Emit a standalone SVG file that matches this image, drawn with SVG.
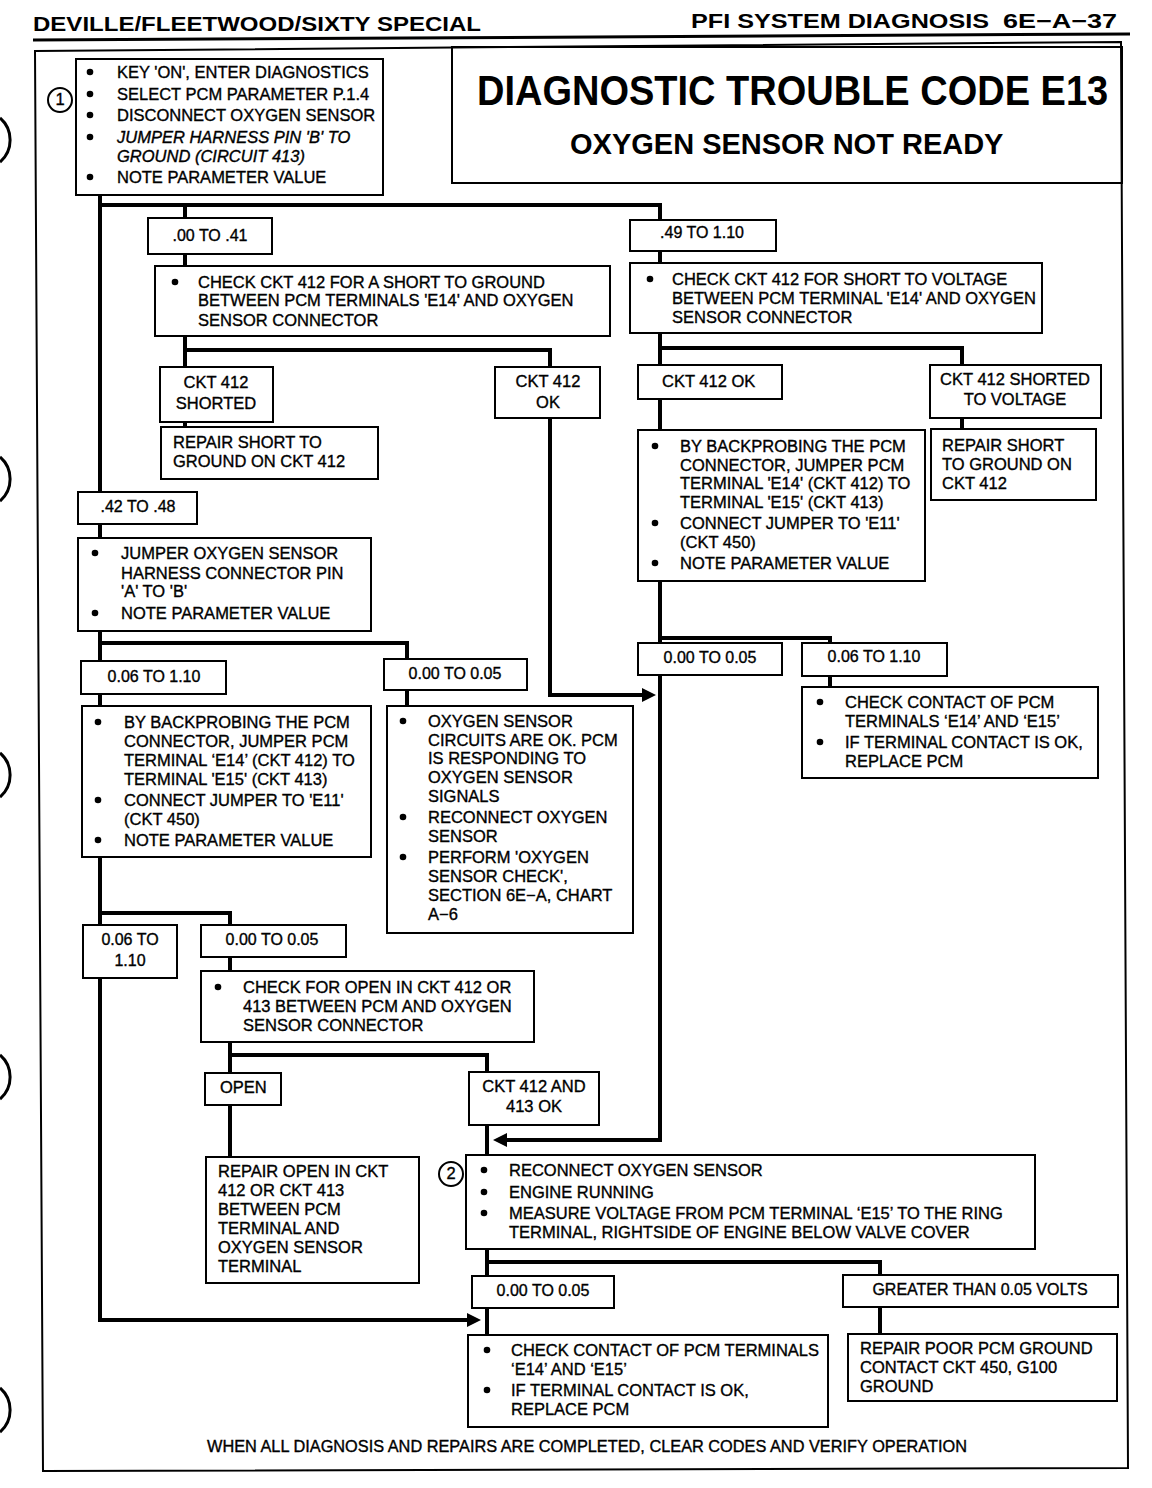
<svg xmlns="http://www.w3.org/2000/svg" width="1152" height="1488" viewBox="0 0 1152 1488">
<style>
.bx{fill:#fff;stroke:#000;stroke-width:2}
.cn{fill:none;stroke:#000;stroke-width:4}
.t{font-family:"Liberation Sans",Arial,sans-serif;font-size:16.5px;fill:#000;stroke:#000;stroke-width:0.35}
.l{font-family:"Liberation Sans",Arial,sans-serif;font-size:16px;fill:#000;stroke:#000;stroke-width:0.35}
.m{text-anchor:middle}
.i{font-style:italic}
.h{font-family:"Liberation Sans",Arial,sans-serif;font-weight:bold;fill:#000}
.hole{fill:none;stroke:#000;stroke-width:3}
</style>
<defs>
<marker id="ah" markerUnits="userSpaceOnUse" markerWidth="16" markerHeight="16" refX="4" refY="7" orient="auto">
<path d="M0,0 L14,7 L0,14 Z" fill="#000"/>
</marker>
<circle id="b" r="3.3" fill="#000"/>
</defs>
<rect width="1152" height="1488" fill="#fff"/>

<g id="punch-holes">
<path class="hole" d="M0,118 A29,29 0 0 1 0,162"/>
<path class="hole" d="M0,457 A29,29 0 0 1 0,501"/>
<path class="hole" d="M0,753 A29,29 0 0 1 0,797"/>
<path class="hole" d="M0,1055 A29,29 0 0 1 0,1099"/>
<path class="hole" d="M0,1388 A29,29 0 0 1 0,1432"/>
</g>

<g id="header">
<text class="h" x="33" y="31" font-size="21" textLength="448" lengthAdjust="spacingAndGlyphs">DEVILLE/FLEETWOOD/SIXTY SPECIAL</text>
<text class="h" x="691" y="28" font-size="21" textLength="298" lengthAdjust="spacingAndGlyphs">PFI SYSTEM DIAGNOSIS</text>
<text class="h" x="1003" y="28" font-size="21" textLength="114" lengthAdjust="spacingAndGlyphs">6E−A−37</text>
<path d="M33,40 L1130,34" stroke="#000" stroke-width="3"/>
<path d="M35,51 L1121,42 L1128,1468 L43,1471 Z" fill="none" stroke="#000" stroke-width="2"/>
</g>

<g id="connectors">
<path class="cn" d="M100,195 V1320 H471" marker-end="url(#ah)"/>
<path class="cn" d="M100,205 H660 V220"/>
<path class="cn" d="M185,205 V218 M185,254 V266 M185,336 V367 M185,350 H550 V367 M185,422 V427"/>
<path class="cn" d="M550,418 V695 H646" marker-end="url(#ah)"/>
<path class="cn" d="M660,251 V1140 H503" marker-end="url(#ah)"/>
<path class="cn" d="M660,348 H962 V365 M962,418 V429"/>
<path class="cn" d="M660,638 H830 V643 M830,676 V687"/>
<path class="cn" d="M100,643 H407 V659 M407,690 V706"/>
<path class="cn" d="M100,913 H230 V925 M230,957 V971 M230,1042 V1073 M230,1055 H487 V1072 M230,1105 V1157"/>
<path class="cn" d="M487,1125 V1155 M487,1249 V1276 M487,1262 H880 V1275 M487,1308 V1335 M880,1307 V1334"/>
</g>

<g id="n-step1">
<rect class="bx" x="76" y="59" width="307" height="136"/>
<circle cx="60" cy="100" r="12" fill="#fff" stroke="#000" stroke-width="2"/>
<text class="t m" x="60" y="105" font-size="14">1</text>
<use href="#b" x="90" y="72"/><use href="#b" x="90" y="94"/><use href="#b" x="90" y="115"/><use href="#b" x="90" y="137"/><use href="#b" x="90" y="177"/>
<text class="t" x="117" y="78">KEY 'ON', ENTER DIAGNOSTICS</text>
<text class="t" x="117" y="100">SELECT PCM PARAMETER P.1.4</text>
<text class="t" x="117" y="121">DISCONNECT OXYGEN SENSOR</text>
<text class="t i" x="117" y="143">JUMPER HARNESS PIN 'B' TO</text>
<text class="t i" x="117" y="162">GROUND (CIRCUIT 413)</text>
<text class="t" x="117" y="183">NOTE PARAMETER VALUE</text>
</g>

<g id="n-title">
<rect x="452" y="47" width="670" height="136" fill="none" stroke="#000" stroke-width="2"/>
<text class="h" font-size="38" transform="translate(477,105) scale(1,1.1)">DIAGNOSTIC TROUBLE CODE E13</text>
<text class="h" x="570" y="154" font-size="29">OXYGEN SENSOR NOT READY</text>
</g>

<g id="n-r00-41">
<rect class="bx" x="148" y="218" width="124" height="36"/>
<text class="l m" x="210" y="241">.00 TO .41</text>
</g>

<g id="n-check-short-ground">
<rect class="bx" x="155" y="266" width="455" height="70"/>
<use href="#b" x="175" y="282"/>
<text class="t" x="198" y="288">CHECK CKT 412 FOR A SHORT TO GROUND</text>
<text class="t" x="198" y="306">BETWEEN PCM TERMINALS 'E14' AND OXYGEN</text>
<text class="t" x="198" y="326">SENSOR CONNECTOR</text>
</g>

<g id="n-ckt412-shorted">
<rect class="bx" x="160" y="367" width="113" height="55"/>
<text class="t m" x="216" y="388">CKT 412</text>
<text class="t m" x="216" y="409">SHORTED</text>
</g>

<g id="n-repair-short-ground">
<rect class="bx" x="161" y="427" width="217" height="52"/>
<text class="t" x="173" y="448">REPAIR SHORT TO</text>
<text class="t" x="173" y="467">GROUND ON CKT 412</text>
</g>

<g id="n-ckt412-ok-left">
<rect class="bx" x="495" y="367" width="105" height="51"/>
<text class="t m" x="548" y="387">CKT 412</text>
<text class="t m" x="548" y="408">OK</text>
</g>

<g id="n-r49-110">
<rect class="bx" x="630" y="220" width="146" height="31"/>
<text class="l m" x="702" y="238">.49 TO 1.10</text>
</g>

<g id="n-check-short-voltage">
<rect class="bx" x="630" y="263" width="412" height="70"/>
<use href="#b" x="650" y="279"/>
<text class="t" x="672" y="285">CHECK CKT 412 FOR SHORT TO VOLTAGE</text>
<text class="t" x="672" y="304">BETWEEN PCM TERMINAL 'E14' AND OXYGEN</text>
<text class="t" x="672" y="323">SENSOR CONNECTOR</text>
</g>

<g id="n-ckt412-ok-right">
<rect class="bx" x="638" y="365" width="144" height="34"/>
<text class="t" x="662" y="387">CKT 412 OK</text>
</g>

<g id="n-ckt412-shorted-voltage">
<rect class="bx" x="930" y="365" width="171" height="53"/>
<text class="t m" x="1015" y="385">CKT 412 SHORTED</text>
<text class="t m" x="1015" y="405">TO VOLTAGE</text>
</g>

<g id="n-repair-short-right">
<rect class="bx" x="931" y="429" width="165" height="71"/>
<text class="t" x="942" y="451">REPAIR SHORT</text>
<text class="t" x="942" y="470">TO GROUND ON</text>
<text class="t" x="942" y="489">CKT 412</text>
</g>

<g id="n-backprobe-right">
<rect class="bx" x="638" y="430" width="287" height="151"/>
<use href="#b" x="655" y="446"/><use href="#b" x="655" y="523"/><use href="#b" x="655" y="563"/>
<text class="t" x="680" y="452">BY BACKPROBING THE PCM</text>
<text class="t" x="680" y="471">CONNECTOR, JUMPER  PCM</text>
<text class="t" x="680" y="489">TERMINAL 'E14' (CKT 412) TO</text>
<text class="t" x="680" y="508">TERMINAL 'E15' (CKT 413)</text>
<text class="t" x="680" y="529">CONNECT JUMPER TO 'E11'</text>
<text class="t" x="680" y="548">(CKT 450)</text>
<text class="t" x="680" y="569">NOTE PARAMETER VALUE</text>
</g>

<g id="n-r42-48">
<rect class="bx" x="78" y="492" width="119" height="32"/>
<text class="l m" x="138" y="512">.42 TO .48</text>
</g>

<g id="n-jumper">
<rect class="bx" x="78" y="538" width="293" height="93"/>
<use href="#b" x="95" y="553"/><use href="#b" x="95" y="613"/>
<text class="t" x="121" y="559">JUMPER OXYGEN  SENSOR</text>
<text class="t" x="121" y="579">HARNESS CONNECTOR PIN</text>
<text class="t" x="121" y="597">'A' TO 'B'</text>
<text class="t" x="121" y="619">NOTE PARAMETER VALUE</text>
</g>

<g id="n-l006-110">
<rect class="bx" x="81" y="661" width="145" height="33"/>
<text class="l m" x="154" y="682">0.06 TO 1.10</text>
</g>

<g id="n-l000-005">
<rect class="bx" x="384" y="659" width="143" height="31"/>
<text class="l m" x="455" y="679">0.00 TO 0.05</text>
</g>

<g id="n-backprobe-left">
<rect class="bx" x="82" y="706" width="289" height="151"/>
<use href="#b" x="98" y="722"/><use href="#b" x="98" y="800"/><use href="#b" x="98" y="840"/>
<text class="t" x="124" y="728">BY BACKPROBING THE PCM</text>
<text class="t" x="124" y="747">CONNECTOR, JUMPER  PCM</text>
<text class="t" x="124" y="766">TERMINAL ‘E14’ (CKT 412) TO</text>
<text class="t" x="124" y="785">TERMINAL 'E15' (CKT 413)</text>
<text class="t" x="124" y="806">CONNECT JUMPER TO 'E11'</text>
<text class="t" x="124" y="825">(CKT 450)</text>
<text class="t" x="124" y="846">NOTE PARAMETER VALUE</text>
</g>

<g id="n-circuits-ok">
<rect class="bx" x="387" y="706" width="246" height="227"/>
<use href="#b" x="403" y="721"/><use href="#b" x="403" y="817"/><use href="#b" x="403" y="857"/>
<text class="t" x="428" y="727">OXYGEN SENSOR</text>
<text class="t" x="428" y="746">CIRCUITS ARE OK. PCM</text>
<text class="t" x="428" y="764">IS RESPONDING TO</text>
<text class="t" x="428" y="783">OXYGEN SENSOR</text>
<text class="t" x="428" y="802">SIGNALS</text>
<text class="t" x="428" y="823">RECONNECT OXYGEN</text>
<text class="t" x="428" y="842">SENSOR</text>
<text class="t" x="428" y="863">PERFORM 'OXYGEN</text>
<text class="t" x="428" y="882">SENSOR CHECK',</text>
<text class="t" x="428" y="901">SECTION 6E−A, CHART</text>
<text class="t" x="428" y="920">A−6</text>
</g>

<g id="n-r000-005">
<rect class="bx" x="638" y="643" width="144" height="32"/>
<text class="l m" x="710" y="663">0.00 TO 0.05</text>
</g>

<g id="n-r006-110">
<rect class="bx" x="802" y="643" width="145" height="33"/>
<text class="l m" x="874" y="662">0.06 TO 1.10</text>
</g>

<g id="n-check-contact-right">
<rect class="bx" x="802" y="687" width="296" height="91"/>
<use href="#b" x="820" y="702"/><use href="#b" x="820" y="742"/>
<text class="t" x="845" y="708">CHECK CONTACT OF PCM</text>
<text class="t" x="845" y="727">TERMINALS ‘E14’ AND ‘E15’</text>
<text class="t" x="845" y="748">IF TERMINAL CONTACT IS OK,</text>
<text class="t" x="845" y="767">REPLACE PCM</text>
</g>

<g id="n-b006-110">
<rect class="bx" x="83" y="925" width="94" height="53"/>
<text class="l m" x="130" y="945">0.06 TO</text>
<text class="l m" x="130" y="966">1.10</text>
</g>

<g id="n-b000-005">
<rect class="bx" x="201" y="925" width="145" height="32"/>
<text class="l m" x="272" y="945">0.00 TO 0.05</text>
</g>

<g id="n-check-open">
<rect class="bx" x="201" y="971" width="333" height="71"/>
<use href="#b" x="218" y="987"/>
<text class="t" x="243" y="993">CHECK FOR OPEN IN CKT 412 OR</text>
<text class="t" x="243" y="1012">413 BETWEEN PCM AND OXYGEN</text>
<text class="t" x="243" y="1031">SENSOR CONNECTOR</text>
</g>

<g id="n-open">
<rect class="bx" x="205" y="1073" width="76" height="32"/>
<text class="t" x="220" y="1093">OPEN</text>
</g>

<g id="n-repair-open">
<rect class="bx" x="206" y="1157" width="213" height="126"/>
<text class="t" x="218" y="1177">REPAIR OPEN IN CKT</text>
<text class="t" x="218" y="1196">412 OR CKT 413</text>
<text class="t" x="218" y="1215">BETWEEN PCM</text>
<text class="t" x="218" y="1234">TERMINAL AND</text>
<text class="t" x="218" y="1253">OXYGEN SENSOR</text>
<text class="t" x="218" y="1272">TERMINAL</text>
</g>

<g id="n-ckt-ok">
<rect class="bx" x="469" y="1072" width="130" height="53"/>
<text class="t m" x="534" y="1092">CKT 412 AND</text>
<text class="t m" x="534" y="1112">413 OK</text>
</g>

<g id="n-step2">
<rect class="bx" x="466" y="1155" width="569" height="94"/>
<circle cx="451" cy="1174" r="12" fill="#fff" stroke="#000" stroke-width="2"/>
<text class="t m" x="451" y="1179" font-size="14">2</text>
<use href="#b" x="484" y="1170"/><use href="#b" x="484" y="1192"/><use href="#b" x="484" y="1213"/>
<text class="t" x="509" y="1176">RECONNECT OXYGEN SENSOR</text>
<text class="t" x="509" y="1198">ENGINE RUNNING</text>
<text class="t" x="509" y="1219">MEASURE VOLTAGE FROM PCM TERMINAL ‘E15’ TO THE RING</text>
<text class="t" x="509" y="1238">TERMINAL, RIGHTSIDE OF ENGINE BELOW VALVE COVER</text>
</g>

<g id="n-f000-005">
<rect class="bx" x="472" y="1276" width="142" height="32"/>
<text class="l m" x="543" y="1296">0.00 TO 0.05</text>
</g>

<g id="n-greater">
<rect class="bx" x="843" y="1275" width="275" height="32"/>
<text class="l m" x="980" y="1295">GREATER THAN 0.05 VOLTS</text>
</g>

<g id="n-repair-ground">
<rect class="bx" x="848" y="1334" width="269" height="67"/>
<text class="t" x="860" y="1354">REPAIR POOR  PCM GROUND</text>
<text class="t" x="860" y="1373">CONTACT CKT 450, G100</text>
<text class="t" x="860" y="1392">GROUND</text>
</g>

<g id="n-check-contact-bottom">
<rect class="bx" x="468" y="1335" width="360" height="92"/>
<use href="#b" x="487" y="1350"/><use href="#b" x="487" y="1390"/>
<text class="t" x="511" y="1356">CHECK CONTACT OF PCM TERMINALS</text>
<text class="t" x="511" y="1375">‘E14’ AND ‘E15’</text>
<text class="t" x="511" y="1396">IF TERMINAL CONTACT IS OK,</text>
<text class="t" x="511" y="1415">REPLACE PCM</text>
</g>

<g id="footer">
<text class="l" x="207" y="1452" textLength="760" lengthAdjust="spacingAndGlyphs">WHEN ALL DIAGNOSIS AND REPAIRS ARE COMPLETED, CLEAR CODES AND VERIFY OPERATION</text>
</g>
</svg>
